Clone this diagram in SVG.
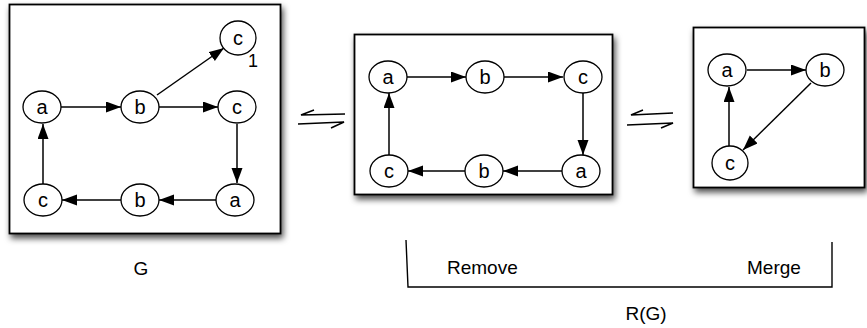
<svg xmlns="http://www.w3.org/2000/svg" width="867" height="328" viewBox="0 0 867 328">
<style>
.box{fill:#fff;stroke:#000;stroke-width:1.8;filter:url(#sh)}
.node ellipse{fill:#fff;stroke:#000;stroke-width:1.3}
.node text{font-family:"Liberation Sans",Arial,sans-serif;font-size:20px;text-anchor:middle;dominant-baseline:central}
.edge{stroke:#000;stroke-width:1.5;fill:none;marker-end:url(#ah)}
.lbl{font-family:"Liberation Sans",Arial,sans-serif;font-size:19px;fill:#000}
.eq{stroke:#000;stroke-width:1.5;fill:none}
</style>
<defs>
<filter id="sh" x="-10%" y="-10%" width="125%" height="130%">
<feDropShadow dx="2" dy="4" stdDeviation="3" flood-color="#000" flood-opacity="0.7"/>
</filter>
<marker id="ah" markerUnits="userSpaceOnUse" markerWidth="16" markerHeight="12" refX="15" refY="5.5" orient="auto">
<path d="M0,0 L15,5.5 L0,11 z" fill="#000"/>
</marker>
</defs>
<rect width="867" height="328" fill="#fff"/>
<g id="boxes">
<rect id="box-G" class="box" x="9.5" y="4.5" width="271" height="229"/>
<rect id="box-remove" class="box" x="354.5" y="34.5" width="258" height="160"/>
<rect id="box-merge" class="box" x="693.5" y="27.5" width="171" height="160"/>
</g>
<g id="connectors">
<line class="edge" x1="61" y1="107" x2="121" y2="107"/>
<line class="edge" x1="159" y1="107" x2="218" y2="107"/>
<line class="edge" x1="157" y1="95" x2="224" y2="48"/>
<line class="edge" x1="237" y1="124" x2="237" y2="183"/>
<line class="edge" x1="216" y1="200" x2="159" y2="200"/>
<line class="edge" x1="121" y1="200" x2="62" y2="200"/>
<line class="edge" x1="43" y1="184" x2="43" y2="124"/>
<line class="edge" x1="407" y1="77" x2="466" y2="77"/>
<line class="edge" x1="504" y1="77" x2="563" y2="77"/>
<line class="edge" x1="583" y1="93" x2="583" y2="155"/>
<line class="edge" x1="562" y1="171" x2="503" y2="171"/>
<line class="edge" x1="465" y1="171" x2="408" y2="171"/>
<line class="edge" x1="389" y1="155" x2="389" y2="93"/>
<line class="edge" x1="747" y1="70" x2="806" y2="70"/>
<line class="edge" x1="811" y1="83" x2="743" y2="150"/>
<line class="edge" x1="729" y1="147" x2="729" y2="87"/>
</g>
<g id="n-G-a1" class="node"><ellipse cx="42" cy="107" rx="19" ry="16"/><text x="42" y="107">a</text></g>
<g id="n-G-b1" class="node"><ellipse cx="140" cy="107" rx="19" ry="16"/><text x="140" y="107">b</text></g>
<g id="n-G-c1" class="node"><ellipse cx="237" cy="107" rx="19" ry="16"/><text x="237" y="107">c</text></g>
<g id="n-G-ctop" class="node"><ellipse cx="238" cy="38" rx="18" ry="17"/><text x="238" y="38">c</text><text x="253" y="61" style="font-size:18px">1</text></g>
<g id="n-G-c2" class="node"><ellipse cx="43" cy="200" rx="19" ry="16"/><text x="43" y="200">c</text></g>
<g id="n-G-b2" class="node"><ellipse cx="140" cy="200" rx="19" ry="16"/><text x="140" y="200">b</text></g>
<g id="n-G-a2" class="node"><ellipse cx="235" cy="200" rx="19" ry="16"/><text x="235" y="200">a</text></g>
<g id="n-R-a1" class="node"><ellipse cx="388" cy="77" rx="19" ry="16"/><text x="388" y="77">a</text></g>
<g id="n-R-b1" class="node"><ellipse cx="485" cy="77" rx="19" ry="16"/><text x="485" y="77">b</text></g>
<g id="n-R-c1" class="node"><ellipse cx="583" cy="77" rx="19" ry="16"/><text x="583" y="77">c</text></g>
<g id="n-R-c2" class="node"><ellipse cx="389" cy="171" rx="19" ry="16"/><text x="389" y="171">c</text></g>
<g id="n-R-b2" class="node"><ellipse cx="484" cy="171" rx="19" ry="16"/><text x="484" y="171">b</text></g>
<g id="n-R-a2" class="node"><ellipse cx="581" cy="171" rx="19" ry="16"/><text x="581" y="171">a</text></g>
<g id="n-M-a" class="node"><ellipse cx="727" cy="70" rx="19" ry="16"/><text x="727" y="70">a</text></g>
<g id="n-M-b" class="node"><ellipse cx="825" cy="70" rx="19" ry="16"/><text x="825" y="70">b</text></g>
<g id="n-M-c" class="node"><ellipse cx="730" cy="163" rx="18" ry="17"/><text x="730" y="163">c</text></g>
<g id="equilibria">
<path class="eq" d="M345,114 L301,115 L314,110"/>
<path class="eq" d="M298,124 L344,122 L331,128"/>
<path class="eq" d="M673,113 L631,115 L643,110"/>
<path class="eq" d="M627,125 L673,123 L661,128"/>
</g>
<g id="bracket">
<path d="M406,240 L408,287 L832,287 L832,242" fill="none" stroke="#000" stroke-width="1.4"/>
</g>
<g id="labels">
<text class="lbl" x="141" y="275" text-anchor="middle">G</text>
<text class="lbl" x="447" y="274">Remove</text>
<text class="lbl" x="747" y="274">Merge</text>
<text class="lbl" x="646" y="320" text-anchor="middle">R(G)</text>
</g>
</svg>
